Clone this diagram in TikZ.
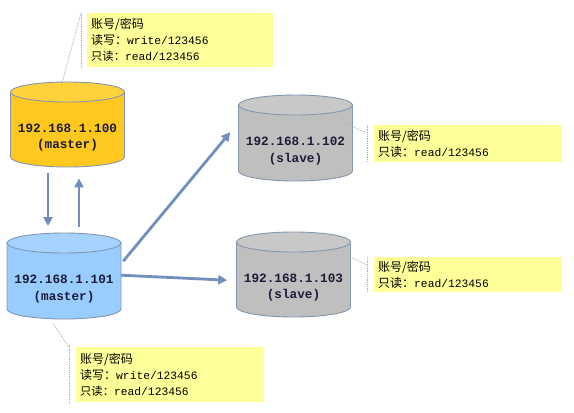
\documentclass[tikz,border=0pt]{standalone}
\usepackage{fontspec}
\usetikzlibrary{arrows.meta}
\newfontfamily\cjk{Noto Sans CJK SC}
\newfontfamily\monof{Liberation Mono}
\definecolor{edgec}{HTML}{8497B0}
\definecolor{arrowc}{HTML}{6F90BE}
\definecolor{dotc}{HTML}{9AB0CC}
\definecolor{notec}{HTML}{FFFF99}
\definecolor{goldbody}{HTML}{FFC81E}
\definecolor{goldtop}{HTML}{FFD23C}
\definecolor{bluebody}{HTML}{99CCFF}
\definecolor{bluetop}{HTML}{A6D2FF}
\definecolor{graybody}{HTML}{BFBFBF}
\definecolor{graytop}{HTML}{C8C8C8}
\definecolor{lblc}{HTML}{1C1C38}
\newcommand\dbcyl[7]{%
  \node[minimum width=114pt,minimum height={(#4-#3)*1pt},inner sep=0pt,anchor=north] (#1) at (#2,-#3) {};
  \filldraw[fill=#5,draw=edgec,line width=0.9pt] ({#2-57},{-#3-10}) -- ({#2-57},{-#4+10})
    arc[start angle=180,end angle=360,x radius=57pt,y radius=10pt] -- ({#2+57},{-#3-10}) -- cycle;
  \filldraw[fill=#6,draw=edgec,line width=0.9pt] (#2,{-#3-10}) ellipse[x radius=57pt,y radius=10pt];
  \node[lbl] (#1t) at (#2,{-(#3+#4)/2-13}) {#7};
}
\tikzset{
  lbl/.style={font=\monof\bfseries\fontsize{12.7}{16.5}\selectfont,text=lblc,align=center,inner sep=0pt},
  note/.style={fill=notec,anchor=north west,inner sep=4pt,align=left,
    font=\fontsize{12}{16}\selectfont,text=black},
  flow/.style={draw=arrowc,line width=2.8pt,-{Triangle[length=9pt,width=9pt]}},
  callout/.style={draw=dotc,line width=0.8pt,densely dotted},
}
\begin{document}
\begin{tikzpicture}[x=1pt,y=1pt]
\useasboundingbox[fill=white] (0,0) rectangle (574,-413);
% cylinders
\dbcyl{c100}{67.5}{82}{167}{goldbody}{goldtop}{192.168.1.100\\(master)}
\dbcyl{c101}{64}{233}{319}{bluebody}{bluetop}{192.168.1.101\\(master)}
\dbcyl{c102}{295.5}{95}{181}{graybody}{graytop}{192.168.1.102\\(slave)}
\dbcyl{c103}{293.5}{232}{317}{graybody}{graytop}{192.168.1.103\\(slave)}
% notes
\node[note,minimum width=186pt,minimum height=54pt,text width=178pt] (n100) at (87,-13)
  {\cjk 账号/密码\\\cjk 读写：\monof\fontsize{11.3}{16}\selectfont write/123456\\\cjk 只读：\monof\fontsize{11.3}{16}\selectfont read/123456};
\node[note,minimum width=188pt,minimum height=55pt,text width=180pt] (n101) at (76,-347)
  {\cjk 账号/密码\\\cjk 读写：\monof\fontsize{11.3}{16}\selectfont write/123456\\\cjk 只读：\monof\fontsize{11.3}{16}\selectfont read/123456};
\node[note,minimum width=188pt,minimum height=37pt,text width=180pt] (n102) at (374,-125)
  {\cjk 账号/密码\\\cjk 只读：\monof\fontsize{11.3}{16}\selectfont read/123456};
\node[note,minimum width=188pt,minimum height=35pt,text width=180pt] (n103) at (374,-257)
  {\cjk 账号/密码\\\cjk 只读：\monof\fontsize{11.3}{16}\selectfont read/123456};
% callouts
\draw[callout] ([xshift=-6pt]n100.north west) -- ([xshift=-6pt]n100.south west);
\draw[callout] ([xshift=-6pt]n100.north west) -- ([xshift=-6pt,yshift=-3pt]c100.north);
\draw[callout] ([xshift=-7pt,yshift=2pt]n101.north west) -- ([xshift=-7pt,yshift=-1pt]n101.south west);
\draw[callout] ([xshift=-7pt]n101.north west) -- ([xshift=-11pt,yshift=-4pt]c101.south);
\draw[callout] ([xshift=-7pt]n102.north west) -- ([xshift=-7pt]n102.south west);
\draw[callout] ([xshift=-7pt,yshift=-8pt]n102.north west) -- ([xshift=-7.5pt,yshift=15pt]c102.east);
\draw[callout] ([xshift=-7pt]n103.north west) -- ([xshift=-7pt]n103.south west);
\draw[callout] ([xshift=-7pt,yshift=-8pt]n103.north west) -- ([yshift=17.5pt]c103.east);
% arrows
\draw[flow] ([xshift=-19.5pt,yshift=-6pt]c100.south) -- ([xshift=-16pt,yshift=7pt]c101.north);
\draw[flow] ([xshift=15pt,yshift=6pt]c101.north) -- ([xshift=11.5pt,yshift=-11pt]c100.south);
\draw[flow] ([xshift=2pt,yshift=15pt]c101.east) -- ([xshift=-8pt,yshift=6pt]c102.west);
\draw[flow] ([yshift=1pt]c101.east) -- ([xshift=-9pt,yshift=-5.5pt]c103.west);
\end{tikzpicture}
\end{document}
